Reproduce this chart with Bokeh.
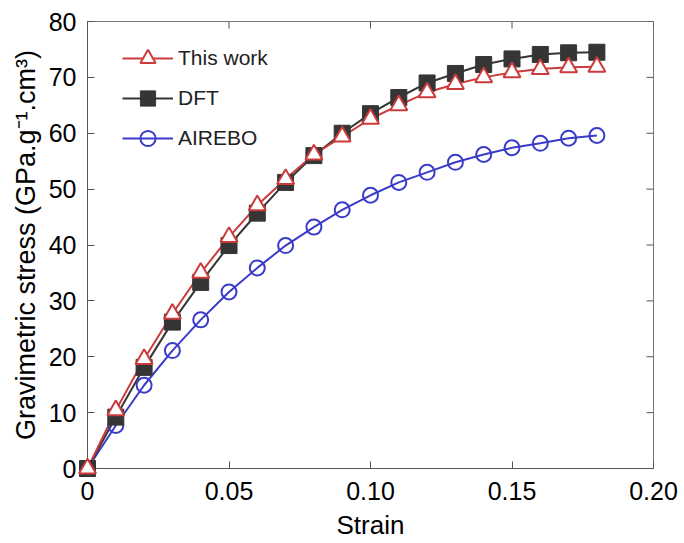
import math
from bokeh.plotting import figure
from bokeh.models import (ColumnDataSource, FixedTicker, Legend, LegendItem,
                          CustomJSTickFormatter, Range1d)
from bokeh.embed import file_html
from bokeh.resources import INLINE

strain = [0.00, 0.01, 0.02, 0.03, 0.04, 0.05, 0.06, 0.07, 0.08, 0.09,
          0.10, 0.11, 0.12, 0.13, 0.14, 0.15, 0.16, 0.17, 0.18]
this_work = [0.0, 10.4, 19.6, 27.7, 35.0, 41.4, 47.1, 51.8, 56.2, 59.4,
             62.6, 65.0, 67.3, 68.8, 70.0, 70.9, 71.5, 71.8, 71.9]
dft = [0.0, 9.2, 18.1, 26.2, 33.3, 39.9, 45.7, 51.2, 56.0, 60.0,
       63.5, 66.4, 69.0, 70.7, 72.3, 73.3, 74.1, 74.4, 74.5]
airebo = [0.0, 7.7, 14.9, 21.1, 26.6, 31.6, 35.9, 39.9, 43.2, 46.3,
          48.9, 51.2, 53.0, 54.8, 56.2, 57.4, 58.2, 59.1, 59.6]

x_ticks = [0, 0.05, 0.10, 0.15, 0.20]
y_ticks = [0, 10, 20, 30, 40, 50, 60, 70, 80]
x_lim = (0, 0.20)
y_lim = (0, 80)

RED = "#cc3b3b"
DARK = "#353535"
BLUE = "#3b3bc9"
FONT = "Liberation Sans"
AXC = "#555555"

src = ColumnDataSource(dict(x=strain, tw=this_work, dft=dft, ai=airebo))

p = figure(width=684, height=543, output_backend="svg", toolbar_location=None,
           x_range=Range1d(*x_lim), y_range=Range1d(*y_lim),
           min_border_left=87, min_border_right=31, min_border_top=21, min_border_bottom=75)
p.background_fill_color = "white"
p.border_fill_color = "white"
p.grid.visible = False
p.outline_line_color = "#777777"
p.outline_line_width = 1

# mirrored tick marks on top and right (inward, 7 px)
p.ray(x=[x_lim[1]] * len(y_ticks), y=y_ticks, length=7, length_units="screen",
      angle=math.pi, line_color=AXC, line_width=1)
p.ray(x=x_ticks, y=[y_lim[1]] * len(x_ticks), length=7, length_units="screen",
      angle=-math.pi / 2, line_color=AXC, line_width=1)

# data
l_ai = p.line("x", "ai", source=src, line_color=BLUE, line_width=2)
m_ai = p.scatter("x", "ai", source=src, marker="circle", size=15, fill_color="white",
                 fill_alpha=0, line_color=BLUE, line_width=2, level="overlay")
l_d = p.line("x", "dft", source=src, line_color=DARK, line_width=2)
m_d = p.scatter("x", "dft", source=src, marker="square", size=16, fill_color=DARK,
                line_color=DARK, line_width=1, level="overlay")
l_t = p.line("x", "tw", source=src, line_color=RED, line_width=2)
m_t = p.scatter("x", "tw", source=src, marker="triangle", size=17, fill_color="white",
                line_color=RED, line_width=2, level="overlay")

fmt = CustomJSTickFormatter(code="return tick == 0 ? '0' : tick.toFixed(2);")

def style_axis(ax):
    ax.axis_line_color = AXC
    ax.major_tick_line_color = AXC
    ax.major_tick_in = 7
    ax.major_tick_out = 0
    ax.minor_tick_line_color = None
    ax.major_label_text_font = FONT
    ax.major_label_text_font_size = "25px"
    ax.major_label_text_color = "black"
    ax.axis_label_text_font = FONT
    ax.axis_label_text_font_size = "26px"
    ax.axis_label_text_font_style = "normal"
    ax.axis_label_text_color = "black"

xa = p.xaxis[0]
xa.ticker = FixedTicker(ticks=x_ticks)
xa.formatter = fmt
xa.axis_label = "Strain"
style_axis(xa)
xa.major_label_standoff = 13
xa.axis_label_standoff = 7

ya = p.yaxis[0]
ya.ticker = FixedTicker(ticks=y_ticks)
ya.axis_label = "Gravimetric stress (GPa.g\u207b\u00b9.cm\u00b3)"
style_axis(ya)
ya.axis_label_text_font_size = "27px"
ya.major_label_standoff = 11
ya.axis_label_standoff = 5

legend = Legend(items=[
    LegendItem(label="This work", renderers=[l_t, m_t]),
    LegendItem(label="DFT", renderers=[l_d, m_d]),
    LegendItem(label="AIREBO", renderers=[l_ai, m_ai]),
], location=(35, 311))
legend.glyph_width = 51
legend.glyph_height = 38
legend.spacing = 2
legend.padding = 0
legend.margin = 0
legend.label_standoff = 5
legend.label_height = 38
legend.label_text_font = FONT
legend.label_text_font_size = "21px"
legend.label_text_color = "#222222"
legend.border_line_color = None
legend.background_fill_alpha = 0
p.add_layout(legend, "center")

open("out.html", "w").write(file_html(p, INLINE))
